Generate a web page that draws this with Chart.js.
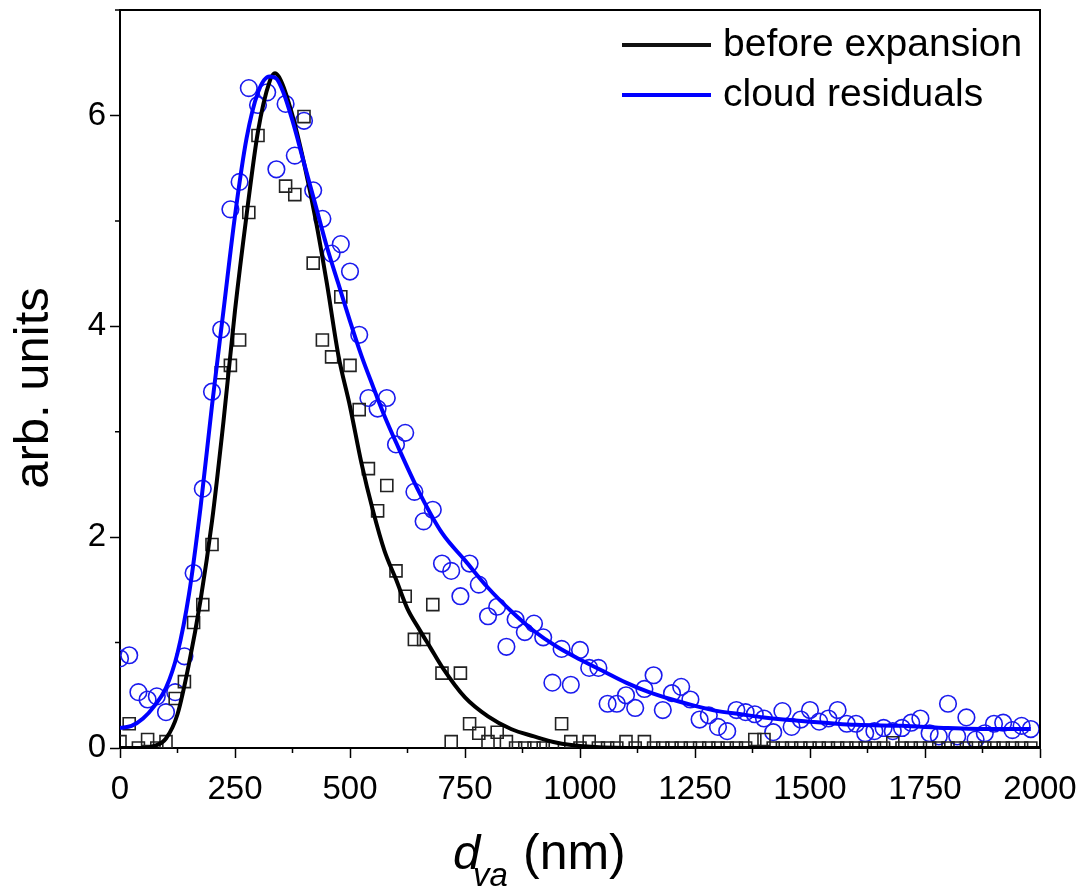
<!DOCTYPE html>
<html lang="en">
  <head>
    <meta charset="UTF-8" />
    <title>Size distribution</title>
    <style>
      body {
        margin: 0;
        padding: 0;
        background-color: #fff;
      }
      .chart-container {
        width: 1089px;
        height: 893px;
        position: relative;
      }
    </style>
  </head>
  <body>
    <div class="chart-container">
      <canvas id="sizeChart" width="1089" height="893"></canvas>
    </div>

    <script src="https://cdn.jsdelivr.net/npm/chart.js"></script>
    <script>
      // bin centres (nm)
      const bins = [
        0, 20, 40, 60, 80, 100, 120, 140, 160, 180, 200, 220, 240, 260, 280, 300, 320, 340, 360, 380,
        400, 420, 440, 460, 480, 500, 520, 540, 560, 580, 600, 620, 640, 660, 680, 700, 720, 740, 760, 780,
        800, 820, 840, 860, 880, 900, 920, 940, 960, 980, 1000, 1020, 1040, 1060, 1080, 1100, 1120, 1140, 1160, 1180,
        1200, 1220, 1240, 1260, 1280, 1300, 1320, 1340, 1360, 1380, 1400, 1420, 1440, 1460, 1480, 1500, 1520, 1540, 1560, 1580,
        1600, 1620, 1640, 1660, 1680, 1700, 1720, 1740, 1760, 1780, 1800, 1820, 1840, 1860, 1880, 1900, 1920, 1940, 1960, 1980,
      ];

      // squares: before expansion
      const beforePoints = [
        0.06, 0.23, 0, 0.08, 0, 0.06, 0.47, 0.63, 1.19, 1.36, 1.93, 3.56, 3.63, 3.87, 5.08, 5.81, 7.4, 7.3, 5.33, 5.25,
        5.99, 4.6, 3.87, 3.71, 4.28, 3.63, 3.21, 2.65, 2.25, 2.49, 1.68, 1.44, 1.03, 1.03, 1.36, 0.71, 0.06, 0.71, 0.23, 0.14,
        0.06, 0.15, 0.06, 0, 0, 0, 0, 0, 0.23, 0.06, 0, 0.06, 0, 0, 0, 0.06, 0, 0.06, 0, 0,
        0, 0, 0, 0, 0, 0, 0, 0, 0, 0.08, 0.08, 0, 0, 0, 0, 0, 0, 0, 0, 0,
        0, 0, 0, 0, 0.05, 0, 0, 0, 0, 0, 0, 0, 0, 0, 0, 0, 0, 0, 0, 0,
      ];

      // circles: cloud residuals
      const cloudPoints = [
        0.85, 0.88, 0.53, 0.46, 0.49, 0.34, 0.53, 0.87, 1.66, 2.46, 3.38, 3.97, 5.11, 5.37, 6.26, 6.1, 6.22, 5.49, 6.11, 5.62,
        5.95, 5.29, 5.02, 4.69, 4.78, 4.52, 3.92, 3.32, 3.22, 3.32, 2.88, 2.99, 2.43, 2.15, 2.26, 1.75, 1.68, 1.44, 1.75, 1.55,
        1.25, 1.34, 0.96, 1.22, 1.1, 1.18, 1.05, 0.62, 0.94, 0.6, 0.93, 0.76, 0.76, 0.42, 0.42, 0.5, 0.38, 0.56, 0.69, 0.36,
        0.52, 0.58, 0.46, 0.27, 0.31, 0.2, 0.16, 0.36, 0.34, 0.32, 0.28, 0.15, 0.35, 0.2, 0.27, 0.36, 0.25, 0.28, 0.36, 0.23,
        0.23, 0.14, 0.16, 0.19, 0.16, 0.19, 0.24, 0.28, 0.14, 0.11, 0.42, 0.11, 0.29, 0.08, 0.14, 0.23, 0.24, 0.17, 0.21, 0.18,
      ];

      // fitted curves
      const beforeFitX = [0, 50, 75, 100, 125, 150, 175, 200, 225, 250, 275, 300, 325, 337, 350, 375, 400, 425, 450, 475, 500, 525, 550, 575, 600, 625, 650, 675, 700, 750, 800, 850, 900, 950, 1000, 1100, 2000];
      const beforeFitY = [0, 0, 0.02, 0.09, 0.32, 0.8, 1.4, 2.15, 3.1, 4.15, 5.05, 5.85, 6.32, 6.4, 6.33, 6.0, 5.55, 5.02, 4.4, 3.72, 3.24, 2.7, 2.25, 1.87, 1.6, 1.32, 1.13, 0.95, 0.77, 0.48, 0.3, 0.18, 0.11, 0.05, 0.02, 0, 0];

      const cloudFitX = [0, 25, 50, 75, 100, 125, 150, 175, 200, 225, 250, 275, 300, 325, 340, 355, 375, 400, 425, 450, 475, 500, 525, 550, 575, 600, 650, 700, 750, 800, 850, 900, 950, 1000, 1050, 1100, 1150, 1200, 1250, 1300, 1350, 1400, 1500, 1600, 1700, 1800, 1900, 1980];
      const cloudFitY = [0.19, 0.21, 0.28, 0.4, 0.57, 0.9, 1.46, 2.28, 3.25, 4.15, 5.05, 5.78, 6.22, 6.37, 6.35, 6.22, 5.95, 5.55, 5.15, 4.75, 4.4, 4.05, 3.72, 3.43, 3.15, 2.9, 2.43, 2.04, 1.78, 1.52, 1.3, 1.11, 0.96, 0.84, 0.73, 0.62, 0.53, 0.46, 0.4, 0.35, 0.32, 0.29, 0.25, 0.22, 0.21, 0.19, 0.18, 0.18];

      const xTicks = [0, 250, 500, 750, 1000, 1250, 1500, 1750, 2000];
      const yTicks = [0, 2, 4, 6];

      const legendItems = [
        { text: "before expansion", color: "#111111" },
        { text: "cloud residuals", color: "#0000ff" },
      ];

      const FONT = "'Liberation Sans', Arial, sans-serif";
      Chart.defaults.font.family = FONT;
      Chart.defaults.color = "#000";

      const zip = (xs, ys) => xs.map((x, i) => ({ x: x, y: ys[i] }));

      const decorations = {
        id: "decorations",
        afterDraw(chart) {
          const ctx = chart.ctx;
          const area = chart.chartArea;
          const xs = chart.scales.x;
          const ys = chart.scales.y;
          ctx.save();

          // frame top + right
          ctx.strokeStyle = "#000";
          ctx.lineWidth = 2;
          ctx.beginPath();
          ctx.moveTo(area.left, area.top);
          ctx.lineTo(area.right, area.top);
          ctx.lineTo(area.right, area.bottom);
          ctx.stroke();

          // minor ticks
          ctx.lineWidth = 1.5;
          ctx.beginPath();
          for (let i = 0; i < xTicks.length - 1; i++) {
            const px = xs.getPixelForValue((xTicks[i] + xTicks[i + 1]) / 2);
            ctx.moveTo(px, area.bottom);
            ctx.lineTo(px, area.bottom + 5);
          }
          for (let i = 0; i < yTicks.length; i++) {
            const py = ys.getPixelForValue(yTicks[i] + 1);
            ctx.moveTo(area.left, py);
            ctx.lineTo(area.left - 5, py);
          }
          ctx.stroke();

          // legend
          legendItems.forEach((item, i) => {
            const y = 45 + i * 50;
            ctx.strokeStyle = item.color;
            ctx.lineWidth = 4;
            ctx.beginPath();
            ctx.moveTo(622, y);
            ctx.lineTo(711, y);
            ctx.stroke();
            ctx.fillStyle = "#000";
            ctx.font = "39px " + FONT;
            ctx.textBaseline = "middle";
            ctx.textAlign = "left";
            ctx.fillText(item.text, 723, y);
          });

          // y title
          ctx.save();
          ctx.translate(34, 388);
          ctx.rotate(-Math.PI / 2);
          ctx.font = "49px " + FONT;
          ctx.textAlign = "center";
          ctx.textBaseline = "middle";
          ctx.fillText("arb. units", 0, 0);
          ctx.restore();

          // x title: d_va (nm)
          const x0 = 453;
          const base = 869;
          ctx.textAlign = "left";
          ctx.textBaseline = "alphabetic";
          ctx.font = "italic 49px " + FONT;
          ctx.fillText("d", x0, base);
          ctx.font = "italic 33px " + FONT;
          ctx.fillText("va", x0 + 20, base + 17);
          ctx.font = "50px " + FONT;
          ctx.fillText("(nm)", x0 + 70, base);

          ctx.restore();
        },
      };

      const ctx = document.getElementById("sizeChart").getContext("2d");
      new Chart(ctx, {
        type: "scatter",
        data: {
          datasets: [
            {
              label: "cloud residuals fit",
              data: zip(cloudFitX, cloudFitY),
              showLine: true,
              borderColor: "#0000ff",
              borderWidth: 4,
              pointRadius: 0,
              cubicInterpolationMode: "monotone",
              clip: 0,
            },
            {
              label: "before expansion fit",
              data: zip(beforeFitX, beforeFitY),
              showLine: true,
              borderColor: "#000",
              borderWidth: 4,
              pointRadius: 0,
              cubicInterpolationMode: "monotone",
              clip: 0,
            },
            {
              label: "before expansion",
              data: zip(bins, beforePoints),
              pointStyle: "rect",
              pointRadius: 8.5,
              pointBorderWidth: 1.6,
              pointBorderColor: "#222",
              pointBackgroundColor: "rgba(0,0,0,0)",
              clip: 0,
            },
            {
              label: "cloud residuals",
              data: zip(bins, cloudPoints),
              pointStyle: "circle",
              pointRadius: 8.3,
              pointBorderWidth: 1.6,
              pointBorderColor: "#1a1aee",
              pointBackgroundColor: "rgba(0,0,0,0)",
              clip: 0,
            },
          ],
        },
        options: {
          responsive: false,
          devicePixelRatio: 1,
          animation: false,
          layout: {
            padding: { top: 8, right: 49, left: 0, bottom: 0 },
          },
          scales: {
            x: {
              type: "linear",
              min: 0,
              max: 2000,
              afterFit(scale) {
                scale.height = 145;
                scale.paddingLeft = 0;
                scale.paddingRight = 0;
              },
              afterBuildTicks(scale) {
                scale.ticks = xTicks.map((v) => ({ value: v }));
              },
              ticks: {
                callback: (v) => String(v),
                font: { size: 33 },
                color: "#000",
                padding: 12,
                maxRotation: 0,
                autoSkip: false,
              },
              grid: {
                drawOnChartArea: false,
                drawTicks: true,
                tickLength: 10,
                tickWidth: 1.5,
                tickColor: "#000",
              },
              border: { display: true, color: "#000", width: 2 },
            },
            y: {
              min: 0,
              max: 7,
              afterFit(scale) {
                scale.width = 120;
                scale.paddingTop = 0;
                scale.paddingBottom = 0;
              },
              afterBuildTicks(scale) {
                scale.ticks = yTicks.map((v) => ({ value: v }));
              },
              ticks: {
                callback: (v) => String(v),
                font: { size: 33 },
                color: "#000",
                padding: 4,
              },
              grid: {
                drawOnChartArea: false,
                drawTicks: true,
                tickLength: 10,
                tickWidth: 1.5,
                tickColor: "#000",
              },
              border: { display: true, color: "#000", width: 2 },
            },
          },
          plugins: {
            legend: { display: false },
            tooltip: { enabled: false },
          },
        },
        plugins: [decorations],
      });
    </script>
  </body>
</html>
